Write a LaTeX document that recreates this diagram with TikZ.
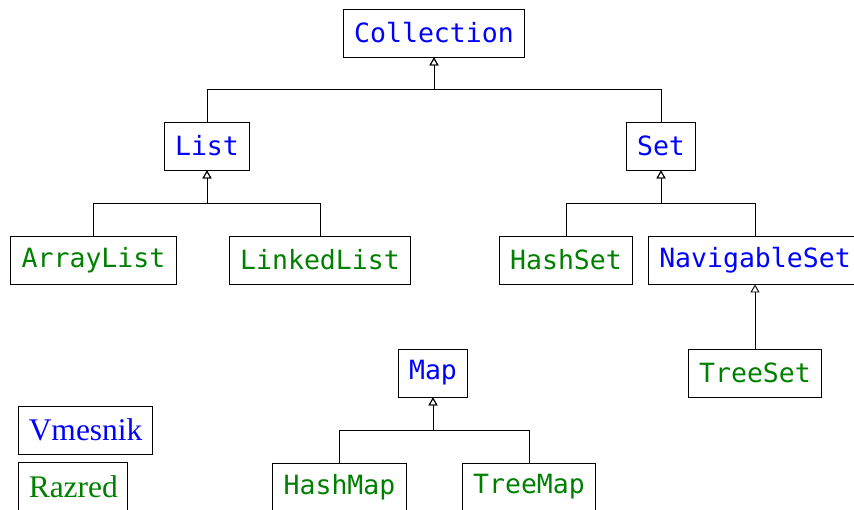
\documentclass[tikz,border=0pt]{standalone}
\usepackage{fontspec}
\newfontfamily\codefont{DejaVu Sans Mono}
\newfontfamily\legfont{Liberation Serif}
\usetikzlibrary{arrows.meta,calc}
\definecolor{ifblue}{RGB}{0,0,255}
\definecolor{clgreen}{RGB}{0,128,0}
\begin{document}
\begin{tikzpicture}[x=1pt,y=-1pt,
  box/.style={draw,line width=0.9pt,minimum height=48pt,inner xsep=11pt,inner ysep=0pt},
  iface/.style={box,text=ifblue,font=\codefont\fontsize{26.5}{30}\selectfont},
  cls/.style={box,text=clgreen,font=\codefont\fontsize{26.5}{30}\selectfont},
  legi/.style={box,text=ifblue,font=\legfont\fontsize{31.5}{34}\selectfont},
  legc/.style={box,text=clgreen,font=\legfont\fontsize{31.5}{34}\selectfont},
  inh/.style={line width=0.9pt,-{Triangle[open,width=9pt,length=8pt]}}]
\useasboundingbox (0,0) rectangle (854,509);
\node[iface] (coll) at (434,33) {Collection};
\node[iface] (list) at (207,146) {List};
\node[iface] (set) at (661,146) {Set};
\node[cls] (alist) at (93.5,260) {ArrayList};
\node[cls] (llist) at (320,260) {LinkedList};
\node[cls] (hset) at (566,260) {HashSet};
\node[iface] (nset) at (755,260) {NavigableSet};
\node[cls] (tset) at (755,373) {TreeSet};
\node[iface] (map) at (433,373) {Map};
\node[cls] (hmap) at (339.5,487) {HashMap};
\node[cls] (tmap) at (529,487) {TreeMap};
\node[legi,anchor=north west,inner xsep=10pt] (lint) at (18.3,405.7) {Vmesnik};
\node[legc,anchor=north west,inner xsep=10pt] (lcls) at (18.3,462.3) {Razred};
\foreach \c/\p in {list/coll,set/coll,alist/list,llist/list,hset/set,nset/set,hmap/map,tmap/map}{
  \draw[inh] (\c.north) |- ($(\p.south)!0.5!(\p.south |- \c.north)$) -- (\p.south);
}
\draw[inh] (tset.north) -- (nset.south);
\end{tikzpicture}
\end{document}
